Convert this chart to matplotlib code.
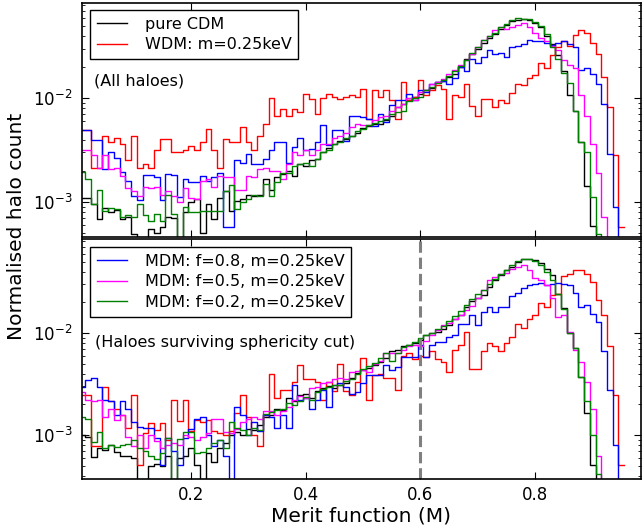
"""Merit-function distribution of haloes: CDM vs WDM vs mixed DM (two panels)."""
import matplotlib

matplotlib.use("Agg")
import matplotlib.pyplot as plt
import numpy as np
from matplotlib.ticker import NullFormatter

nan = np.nan

# histogram bins (width 0.01)
bin_start, bin_width, n_bins = 0.0055, 0.01, 97

# values, stored as log10(normalised count); nan = empty bin
# --- top panel: all haloes ---
cdm_all = [-2.96, -2.96, -3.02, -3.17, -3.06, -3.10, -3.08, -3.17, -3.15, -3.31,
           -3.35, -3.35, -3.26, -3.30, -3.24, -3.15, -3.16, -3.40, -3.10, -3.00,
           -2.97, -3.30, -3.02, -3.17, -2.96, -2.90, -3.09, -2.99, -2.97, -2.93,
           -2.94, -2.93, -2.78, -2.89, -2.76, -2.73, -2.70, -2.75, -2.63, -2.65,
           -2.60, -2.59, -2.52, -2.48, -2.44, -2.41, -2.39, -2.36, -2.33, -2.29,
           -2.27, -2.25, -2.25, -2.21, -2.17, -2.08, -2.05, -2.02, -1.99, -1.955,
           -1.92, -1.90, -1.84, -1.83, -1.79, -1.76, -1.70, -1.62, -1.57, -1.52,
           -1.46, -1.42, -1.38, -1.33, -1.29, -1.25, -1.24, -1.23, -1.24, -1.27,
           -1.31, -1.40, -1.47, -1.58, -1.74, -1.97, -2.12, -2.42, -2.85, -3.23,
           -3.6, nan, nan, nan, nan, nan, nan]
wdm_all = [-2.31, -2.31, -2.67, -2.67, -2.36, -2.42, -2.38, -2.44, -2.60, -2.36,
           -2.67, -2.63, -2.67, -2.50, -2.39, -2.39, -2.52, -2.52, -2.50, -2.46,
           -2.50, -2.42, -2.30, -2.50, -2.67, -2.39, -2.42, -2.42, -2.28, -2.42,
           -2.50, -2.36, -2.25, -2.00, -2.17, -2.10, -2.17, -2.10, -2.13, -1.96,
           -2.01, -2.15, -2.00, -1.96, -1.99, -2.01, -1.99, -1.97, -1.99, -1.91,
           -2.20, -1.92, -1.99, -1.92, -2.02, -2.20, -1.84, -2.02, -1.99, -1.82,
           -1.97, -1.92, -1.87, -1.91, -2.20, -1.97, -1.99, -1.86, -2.07, -2.17,
           -2.01, -2.01, -2.08, -2.02, -2.04, -1.95, -1.86, -1.87, -1.80, -1.77,
           -1.66, -1.71, -1.58, -1.50, -1.45, -1.49, -1.39, -1.34, -1.37, -1.46,
           -1.57, -1.79, -2.08, -2.55, -3.24, nan, nan]
f08_all = [-2.31, -2.31, -2.40, -2.40, -2.68, -2.52, -2.58, -2.71, -2.80, -2.94,
           -2.98, -2.74, -2.74, -2.76, -2.98, -2.73, -2.74, -2.95, -2.78, -2.81,
           -2.81, -2.75, -2.80, -2.76, -2.72, -3.24, -3.24, -2.60, -2.62, -2.54,
           -2.63, -2.63, -2.59, -2.50, -2.42, -2.42, -2.62, -2.47, -2.38, -2.50,
           -2.49, -2.42, -2.26, -2.45, -2.31, -2.31, -2.41, -2.17, -2.17, -2.18,
           -2.20, -2.27, -2.15, -2.23, -2.06, -2.02, -2.02, -1.955, -2.02, -1.92,
           -1.94, -1.86, -1.84, -1.83, -1.86, -1.80, -1.70, -1.74, -1.62, -1.66,
           -1.60, -1.53, -1.57, -1.56, -1.60, -1.50, -1.49, -1.47, -1.44, -1.45,
           -1.45, -1.46, -1.48, -1.46, -1.45, -1.47, -1.50, -1.73, -1.71, -1.76,
           -1.86, -2.05, -2.54, -3.05, -3.6, nan, nan]
f05_all = [-2.50, -2.50, -2.55, -2.67, -2.55, -2.68, -2.67, -2.75, -2.87, -2.90,
           -2.94, -2.86, -2.87, -2.86, -2.93, -2.90, -2.94, -3.00, -2.87, -2.96,
           -2.97, -2.80, -2.78, -2.86, -2.75, -2.76, -2.76, -2.89, -2.89, -2.75,
           -2.76, -2.68, -2.67, -2.70, -2.70, -2.78, -2.63, -2.52, -2.55, -2.50,
           -2.55, -2.50, -2.44, -2.44, -2.38, -2.36, -2.33, -2.28, -2.25, -2.26,
           -2.26, -2.21, -2.18, -2.17, -2.12, -2.08, -2.05, -2.00, -2.02, -1.94,
           -1.92, -1.86, -1.84, -1.81, -1.76, -1.73, -1.68, -1.63, -1.57, -1.50,
           -1.44, -1.40, -1.34, -1.31, -1.33, -1.31, -1.29, -1.27, -1.31, -1.37,
           -1.42, -1.45, -1.49, -1.53, -1.63, -1.68, -1.71, -1.97, -2.17, -2.44,
           -2.72, -3.15, -3.6, nan, nan, nan, nan]
f02_all = [-2.71, -2.78, -3.02, -2.89, -3.09, -3.06, -3.07, -3.15, -3.13, -3.15,
           -3.02, -3.13, -3.19, -3.12, -3.19, -2.93, -3.12, -3.40, -3.05, -3.10,
           -3.10, -3.09, -3.09, -3.09, -3.09, -2.90, -2.84, -3.07, -3.00, -2.97,
           -2.93, -2.94, -2.83, -2.94, -2.81, -2.72, -2.72, -2.65, -2.63, -2.62,
           -2.65, -2.59, -2.52, -2.50, -2.44, -2.42, -2.38, -2.36, -2.32, -2.30,
           -2.26, -2.24, -2.22, -2.20, -2.15, -2.13, -2.12, -2.03, -2.00, -1.99,
           -1.92, -1.89, -1.85, -1.82, -1.78, -1.74, -1.69, -1.63, -1.56, -1.50,
           -1.44, -1.40, -1.37, -1.31, -1.28, -1.24, -1.22, -1.23, -1.23, -1.26,
           -1.30, -1.38, -1.50, -1.62, -1.75, -1.85, -2.12, -2.42, -2.52, -2.95,
           -3.31, -3.6, nan, nan, nan, nan, nan]

# --- bottom panel: haloes surviving the sphericity cut ---
cdm_cut = [-3.00, -3.02, -3.21, -3.13, -3.15, -3.10, -3.17, -3.20, -3.20, -3.22,
           -3.6, -3.6, -3.30, -3.28, -3.30, -3.20, -3.50, -3.22, -3.20, -3.13,
           -3.29, -3.6, -3.18, -3.26, -3.13, -3.08, -3.00, -2.97, -3.00, -2.94,
           -2.95, -2.90, -2.82, -2.80, -2.74, -2.75, -2.64, -2.67, -2.61, -2.60,
           -2.64, -2.57, -2.54, -2.52, -2.54, -2.51, -2.49, -2.44, -2.39, -2.36,
           -2.34, -2.31, -2.28, -2.24, -2.18, -2.17, -2.13, -2.12, -2.10, -2.07,
           -2.02, -2.00, -1.99, -1.96, -1.92, -1.86, -1.82, -1.74, -1.69, -1.66,
           -1.63, -1.55, -1.48, -1.43, -1.38, -1.35, -1.30, -1.27, -1.27, -1.28,
           -1.31, -1.37, -1.43, -1.62, -1.75, -2.00, -2.15, -2.43, -2.78, -3.29,
           -3.6, nan, nan, nan, nan, nan, nan]
wdm_cut = [-2.61, -2.61, -3.11, -3.11, -2.53, -2.67, -2.74, -2.80, -2.93, -2.61,
           -3.29, -2.98, -2.88, -2.95, -2.88, -3.05, -2.66, -2.86, -2.66, -2.96,
           -2.85, -2.87, -2.85, -2.96, -2.98, -3.00, -2.96, -2.78, -2.61, -2.82,
           -3.00, -3.11, -2.80, -2.40, -2.64, -2.56, -2.56, -2.48, -2.31, -2.45,
           -2.45, -2.48, -2.66, -2.48, -2.57, -2.30, -2.57, -2.61, -2.48, -2.24,
           -2.66, -2.41, -2.40, -2.44, -2.44, -2.56, -2.22, -2.20, -2.25, -2.22,
           -2.23, -2.18, -2.25, -2.28, -2.38, -2.17, -2.12, -1.99, -2.35, -2.35,
           -2.18, -2.10, -2.13, -2.18, -2.10, -2.04, -1.91, -1.95, -1.86, -1.82,
           -1.71, -1.74, -1.63, -1.62, -1.44, -1.42, -1.38, -1.38, -1.42, -1.50,
           -1.68, -1.82, -2.13, -2.61, -3.29, nan, nan]
f08_cut = [-2.53, -2.46, -2.44, -2.53, -2.66, -2.67, -2.80, -2.67, -2.74, -2.87,
           -2.92, -2.93, -2.93, -3.03, -3.29, -3.03, -3.16, -3.29, -3.03, -2.94,
           -2.84, -2.82, -3.00, -3.11, -3.05, -3.20, -3.6, -2.72, -2.80, -3.00,
           -2.87, -2.96, -2.80, -2.82, -2.93, -2.80, -2.93, -2.51, -2.66, -2.64,
           -2.74, -2.66, -2.56, -2.72, -2.51, -2.49, -2.53, -2.60, -2.58, -2.49,
           -2.41, -2.41, -2.41, -2.31, -2.36, -2.33, -2.23, -2.23, -2.23, -2.12,
           -2.23, -2.12, -2.09, -2.09, -2.04, -2.02, -1.91, -1.91, -1.82, -1.92,
           -1.79, -1.74, -1.79, -1.74, -1.74, -1.64, -1.61, -1.56, -1.53, -1.52,
           -1.51, -1.53, -1.52, -1.51, -1.52, -1.53, -1.61, -1.74, -1.72, -1.81,
           -1.89, -2.18, -2.56, -3.10, -3.6, nan, nan]
f05_cut = [-2.58, -2.66, -2.67, -2.66, -2.82, -2.74, -2.85, -2.80, -3.02, -3.11,
           -3.00, -3.13, -3.00, -3.06, -3.13, -3.10, -3.08, -3.10, -3.00, -3.02,
           -3.05, -3.02, -2.98, -2.84, -2.84, -2.97, -2.98, -2.94, -2.87, -2.84,
           -2.82, -2.84, -2.76, -2.76, -2.80, -2.76, -2.72, -2.66, -2.62, -2.64,
           -2.54, -2.53, -2.49, -2.48, -2.45, -2.44, -2.45, -2.38, -2.37, -2.36,
           -2.38, -2.30, -2.27, -2.20, -2.20, -2.20, -2.17, -2.13, -2.12, -2.13,
           -2.08, -2.02, -1.97, -1.92, -1.90, -1.86, -1.82, -1.77, -1.73, -1.66,
           -1.58, -1.48, -1.45, -1.42, -1.41, -1.37, -1.35, -1.33, -1.38, -1.46,
           -1.48, -1.53, -1.66, -1.84, -1.82, -1.99, -2.17, -2.28, -2.48, -2.74,
           -3.20, -3.6, nan, nan, nan, nan, nan]
f02_cut = [-2.82, -2.84, -3.07, -2.97, -3.13, -3.10, -3.12, -3.10, -3.09, -3.05,
           -3.13, -3.16, -3.20, -3.23, -3.18, -3.03, -3.6, -3.04, -2.97, -2.97,
           -3.18, -3.17, -3.13, -3.08, -3.05, -3.13, -2.87, -2.93, -2.95, -3.00,
           -2.93, -2.95, -2.79, -2.77, -2.75, -2.74, -2.69, -2.70, -2.67, -2.63,
           -2.66, -2.58, -2.55, -2.53, -2.51, -2.51, -2.47, -2.45, -2.40, -2.35,
           -2.32, -2.29, -2.24, -2.20, -2.27, -2.20, -2.14, -2.12, -2.09, -2.05,
           -2.02, -2.00, -1.96, -1.93, -1.88, -1.83, -1.78, -1.72, -1.67, -1.62,
           -1.58, -1.52, -1.47, -1.42, -1.38, -1.33, -1.29, -1.27, -1.27, -1.29,
           -1.33, -1.40, -1.48, -1.62, -1.76, -2.00, -2.15, -2.43, -2.67, -3.00,
           -3.38, -3.6, nan, nan, nan, nan, nan]

labels = ["pure CDM", "WDM: m=0.25keV", "MDM: f=0.8, m=0.25keV",
          "MDM: f=0.5, m=0.25keV", "MDM: f=0.2, m=0.25keV"]
colors = ["black", "red", "blue", "magenta", "green"]
panel_text = ["(All haloes)", "(Haloes surviving sphericity cut)"]
xticks = [0.2, 0.4, 0.6, 0.8]
cut_value = 0.6

plt.rcParams["font.family"] = "DejaVu Sans"
plt.rcParams["mathtext.default"] = "regular"

fig = plt.figure(figsize=(6.44, 5.29), dpi=100)
ax_top = fig.add_axes([0.1278, 0.552, 0.8668, 0.4423])
ax_bot = fig.add_axes([0.1278, 0.0945, 0.8668, 0.4537])

edges = bin_start + bin_width * np.arange(n_bins + 1)
panels = [
    (ax_top, [cdm_all, wdm_all, f08_all, f05_all, f02_all], (10 ** -3.34, 10 ** -1.078)),
    (ax_bot, [cdm_cut, wdm_cut, f08_cut, f05_cut, f02_cut], (10 ** -3.43, 10 ** -1.078)),
]

handles = []
for ax, series, ylim in panels:
    lines = []
    for vals, col, lab in zip(series, colors, labels):
        v = 10 ** np.asarray(vals, dtype=float)
        ln, = ax.step(edges, np.append(v, v[-1]), where="post", color=col, lw=1.0, label=lab)
        lines.append(ln)
    handles.append(lines)
    ax.set_yscale("log", nonpositive="mask")
    ax.set_ylim(*ylim)
    ax.set_xlim(0.0105, 0.984)
    ax.set_xticks(xticks)
    ax.yaxis.set_minor_formatter(NullFormatter())
    ax.tick_params(which="both", direction="in", top=True, right=True, labelsize=12)
    ax.tick_params(which="major", length=5, width=0.8, pad=7)
    ax.tick_params(which="minor", length=2.5, width=0.6)
    for sp in ax.spines.values():
        sp.set_linewidth(1.2)

ax_top.tick_params(labelbottom=False)
ax_bot.tick_params(axis="x", pad=5)
ax_bot.axvline(cut_value, color="grey", ls="--", lw=2.2)

leg_kw = dict(loc="upper left", fontsize=11.5, frameon=True, fancybox=False,
              edgecolor="black", framealpha=1, borderaxespad=0, borderpad=0.42,
              handlelength=1.9, handletextpad=1.1, labelspacing=0.35)
leg1 = ax_top.legend(handles=handles[0][:2], bbox_to_anchor=(0.0138, 0.970), **leg_kw)
leg2 = ax_bot.legend(handles=handles[1][2:], bbox_to_anchor=(0.0138, 0.966), **leg_kw)
for leg in (leg1, leg2):
    leg.get_frame().set_linewidth(1.0)

ax_top.text(0.021, 0.667, panel_text[0], transform=ax_top.transAxes, fontsize=11.5, va="center")
ax_bot.text(0.023, 0.570, panel_text[1], transform=ax_bot.transAxes, fontsize=11.5, va="center")

ax_bot.set_xlabel("Merit function (M)", fontsize=14.5, labelpad=2)
fig.text(0.026, 0.573, "Normalised halo count", rotation=90, va="center", ha="center", fontsize=14.5)

fig.savefig("out.png", dpi=100)
